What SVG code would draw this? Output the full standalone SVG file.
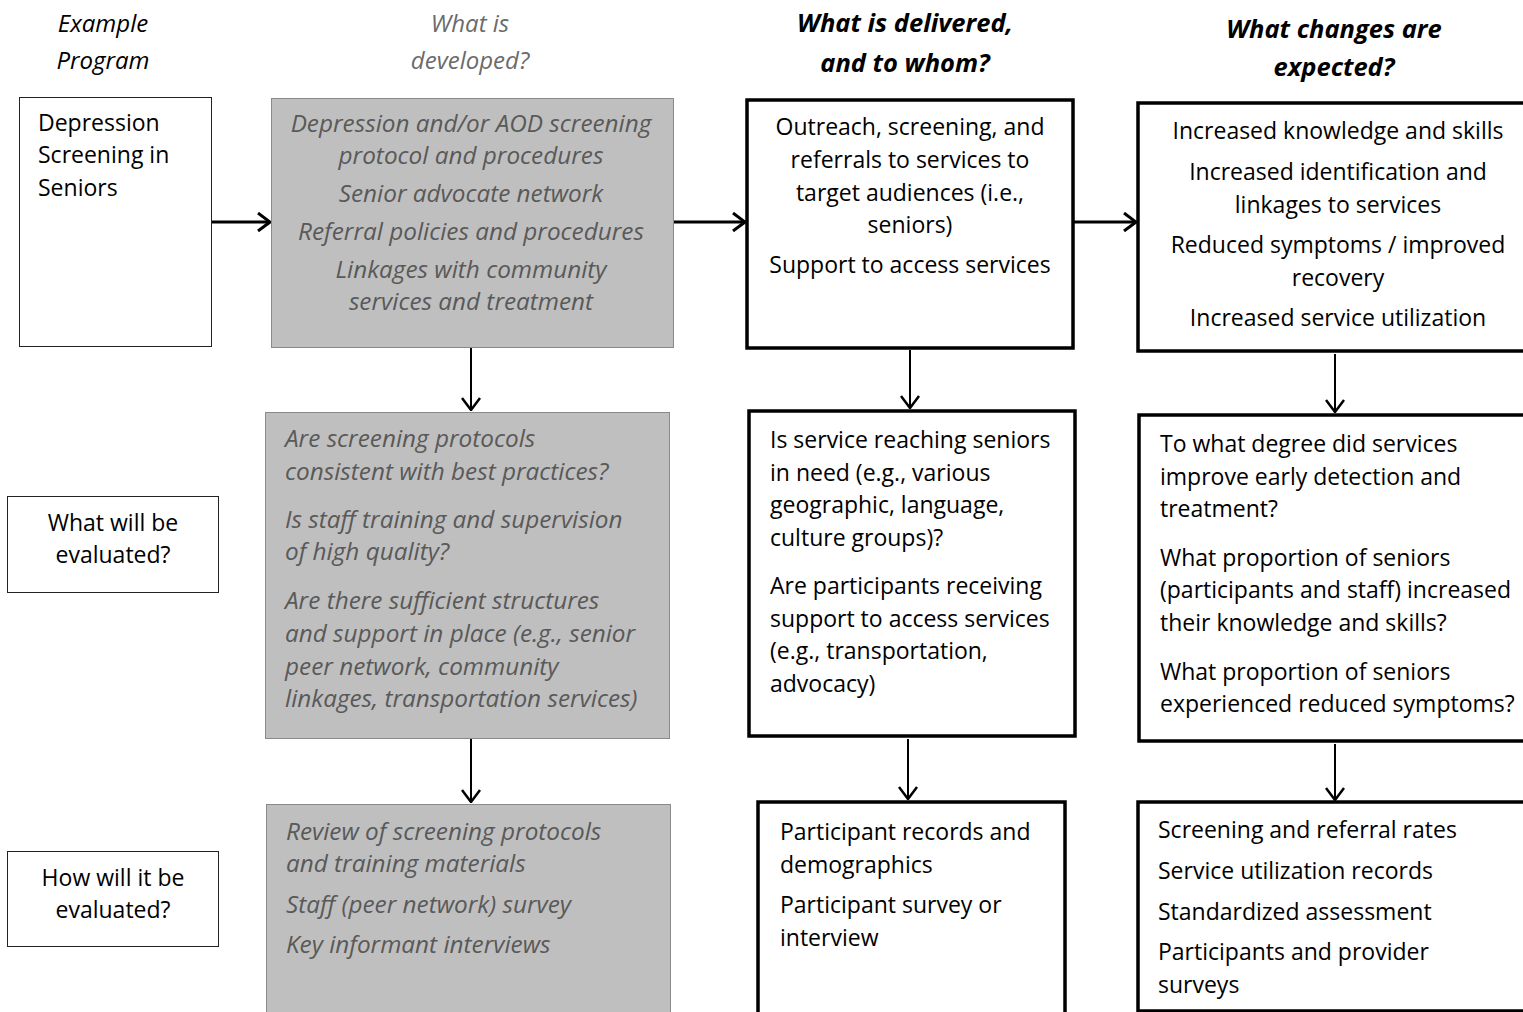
<svg xmlns="http://www.w3.org/2000/svg" width="1523" height="1012" viewBox="0 0 1523 1012">
<defs>
<style>
text{font-family:"Open Sans","Liberation Sans",sans-serif;font-size:23px;fill:#000}
.it{font-style:italic}
.g{fill:#595959;font-style:italic;font-size:24.3px}
.hd{font-size:24px}
.hb{font-weight:bold;font-style:italic;font-size:25.5px}
.c{text-anchor:middle}
.thin{fill:#fff;stroke:#222;stroke-width:1}
.gray{fill:#bfbfbf;stroke:#8a8a8a;stroke-width:1}
.thick{fill:#fff;stroke:#000;stroke-width:3.5}
.con{stroke:#000;stroke-width:3;fill:none}
.conv{stroke:#000;stroke-width:2;fill:none}
</style>
<marker id="ah" viewBox="0 0 14 20" refX="13" refY="10" markerWidth="14" markerHeight="20" markerUnits="userSpaceOnUse" orient="auto">
<path d="M1,1 L13,10 L1,19" fill="none" stroke="#000" stroke-width="3"/>
</marker>
<marker id="av" viewBox="0 0 14 20" refX="13" refY="10" markerWidth="14" markerHeight="20" markerUnits="userSpaceOnUse" orient="auto">
<path d="M1,1 L13,10 L1,19" fill="none" stroke="#000" stroke-width="2.5"/>
</marker>
</defs>
<rect width="1523" height="1012" fill="#fff"/>

<g id="headers">
<text class="hd it c" x="103" y="32">Example</text>
<text class="hd it c" x="103" y="69">Program</text>
<text class="hd g c" x="470" y="32" style="fill:#6b6b6b;font-size:24px">What is</text>
<text class="hd g c" x="470" y="69" style="fill:#6b6b6b;font-size:24px">developed?</text>
<text class="hb c" x="905" y="32">What is delivered,</text>
<text class="hb c" x="905" y="72">and to whom?</text>
<text class="hb c" x="1334" y="38">What changes are</text>
<text class="hb c" x="1334" y="76">expected?</text>
</g>

<g id="connectors">
<line class="con" x1="211" y1="222" x2="270" y2="222" marker-end="url(#ah)"/>
<line class="con" x1="673" y1="222" x2="745" y2="222" marker-end="url(#ah)"/>
<line class="con" x1="1074" y1="222" x2="1136" y2="222" marker-end="url(#ah)"/>
<line class="conv" x1="471" y1="348" x2="471" y2="410" marker-end="url(#av)"/>
<line class="conv" x1="910" y1="350" x2="910" y2="408" marker-end="url(#av)"/>
<line class="conv" x1="1335" y1="354" x2="1335" y2="412" marker-end="url(#av)"/>
<line class="conv" x1="471" y1="739" x2="471" y2="802" marker-end="url(#av)"/>
<line class="conv" x1="908" y1="739" x2="908" y2="799" marker-end="url(#av)"/>
<line class="conv" x1="1335" y1="744" x2="1335" y2="800" marker-end="url(#av)"/>
</g>

<g id="program">
<rect class="thin" x="19.5" y="97.5" width="192" height="249"/>
<text x="38" y="131">Depression</text>
<text x="38" y="163">Screening in</text>
<text x="38" y="196">Seniors</text>
</g>

<g id="developed">
<rect class="gray" x="271.5" y="98.5" width="402" height="249"/>
<text class="g c" x="471" y="132">Depression and/or AOD screening</text>
<text class="g c" x="471" y="164">protocol and procedures</text>
<text class="g c" x="471" y="202">Senior advocate network</text>
<text class="g c" x="471" y="240">Referral policies and procedures</text>
<text class="g c" x="471" y="278">Linkages with community</text>
<text class="g c" x="471" y="310">services and treatment</text>
</g>

<g id="delivered">
<rect class="thick" x="747" y="100" width="326" height="248"/>
<text class="c" x="910" y="135">Outreach, screening, and</text>
<text class="c" x="910" y="168">referrals to services to</text>
<text class="c" x="910" y="201">target audiences (i.e.,</text>
<text class="c" x="910" y="233">seniors)</text>
<text class="c" x="910" y="273">Support to access services</text>
</g>

<g id="changes">
<rect class="thick" x="1138" y="103" width="400" height="248"/>
<text class="c" x="1338" y="139">Increased knowledge and skills</text>
<text class="c" x="1338" y="180">Increased identification and</text>
<text class="c" x="1338" y="213">linkages to services</text>
<text class="c" x="1338" y="253">Reduced symptoms / improved</text>
<text class="c" x="1338" y="286">recovery</text>
<text class="c" x="1338" y="326">Increased service utilization</text>
</g>

<g id="what-evaluated">
<rect class="thin" x="7.5" y="496.5" width="211" height="96"/>
<text class="c" x="113" y="531">What will be</text>
<text class="c" x="113" y="563">evaluated?</text>
</g>

<g id="developed-eval">
<rect class="gray" x="265.5" y="412.5" width="404" height="326"/>
<text class="g" x="285" y="447">Are screening protocols</text>
<text class="g" x="285" y="480">consistent with best practices?</text>
<text class="g" x="285" y="528">Is staff training and supervision</text>
<text class="g" x="285" y="560">of high quality?</text>
<text class="g" x="285" y="609">Are there sufficient structures</text>
<text class="g" x="285" y="642">and support in place (e.g., senior</text>
<text class="g" x="285" y="675">peer network, community</text>
<text class="g" x="285" y="707">linkages, transportation services)</text>
</g>

<g id="delivered-eval">
<rect class="thick" x="749" y="411" width="326" height="325"/>
<text x="770" y="448">Is service reaching seniors</text>
<text x="770" y="481">in need (e.g., various</text>
<text x="770" y="513">geographic, language,</text>
<text x="770" y="546">culture groups)?</text>
<text x="770" y="594">Are participants receiving</text>
<text x="770" y="627">support to access services</text>
<text x="770" y="659">(e.g., transportation,</text>
<text x="770" y="692">advocacy)</text>
</g>

<g id="changes-eval">
<rect class="thick" x="1139" y="415" width="400" height="326"/>
<text x="1160" y="452">To what degree did services</text>
<text x="1160" y="485">improve early detection and</text>
<text x="1160" y="517">treatment?</text>
<text x="1160" y="566">What proportion of seniors</text>
<text x="1160" y="598">(participants and staff) increased</text>
<text x="1160" y="631">their knowledge and skills?</text>
<text x="1160" y="680">What proportion of seniors</text>
<text x="1160" y="712">experienced reduced symptoms?</text>
</g>

<g id="how-evaluated">
<rect class="thin" x="7.5" y="851.5" width="211" height="95"/>
<text class="c" x="113" y="886">How will it be</text>
<text class="c" x="113" y="918">evaluated?</text>
</g>

<g id="developed-how">
<rect class="gray" x="266.5" y="804.5" width="404" height="220"/>
<text class="g" x="286" y="840">Review of screening protocols</text>
<text class="g" x="286" y="872">and training materials</text>
<text class="g" x="286" y="913">Staff (peer network) survey</text>
<text class="g" x="286" y="953">Key informant interviews</text>
</g>

<g id="delivered-how">
<rect class="thick" x="758" y="802" width="307" height="230"/>
<text x="780" y="840">Participant records and</text>
<text x="780" y="873">demographics</text>
<text x="780" y="913">Participant survey or</text>
<text x="780" y="946">interview</text>
</g>

<g id="changes-how">
<rect class="thick" x="1138" y="802" width="400" height="209"/>
<text x="1158" y="838">Screening and referral rates</text>
<text x="1158" y="879">Service utilization records</text>
<text x="1158" y="920">Standardized assessment</text>
<text x="1158" y="960">Participants and provider</text>
<text x="1158" y="993">surveys</text>
</g>
</svg>
